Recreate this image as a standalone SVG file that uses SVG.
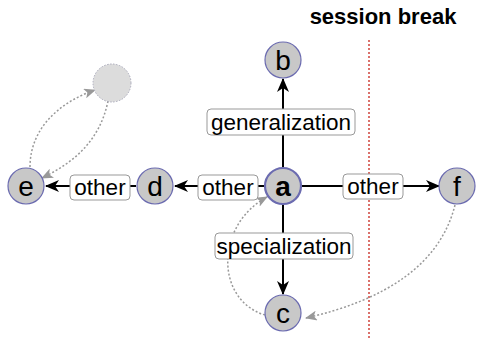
<svg xmlns="http://www.w3.org/2000/svg" width="477" height="340" viewBox="0 0 477 340">
<style>
.node circle{fill:#c8c8c8;stroke:#6b6bb0;stroke-width:1.2}
.node text{font-family:"Liberation Sans",Arial,sans-serif;font-size:28px;fill:#000;text-anchor:middle}
.edge{stroke:#000;stroke-width:2;fill:none}
.lbl rect{fill:#fff;stroke:#999;stroke-width:1}
.lbl text{font-family:"Liberation Sans",Arial,sans-serif;font-size:22.5px;fill:#000;text-anchor:middle}
.soft{stroke:#999;stroke-width:1.5;stroke-dasharray:2,2;fill:none}
</style>
<defs>
<marker id="ah" markerUnits="userSpaceOnUse" markerWidth="14" markerHeight="12" refX="13" refY="6" orient="auto">
<path d="M0,0 L14,6 L0,12 L4,6 z" fill="#000"/>
</marker>
<marker id="gh" markerUnits="userSpaceOnUse" markerWidth="12" markerHeight="10" refX="11" refY="5" orient="auto">
<path d="M0,0 L12,5 L0,10 L3,5 z" fill="#999"/>
</marker>
</defs>
<text x="383" y="24" font-family="Liberation Sans,Arial,sans-serif" font-size="22" font-weight="bold" text-anchor="middle">session break</text>
<line x1="369" y1="40" x2="369" y2="340" stroke="#d0433b" stroke-width="1.5" stroke-dasharray="2,2"/>
<g id="connectors">
<line class="edge" x1="283" y1="168" x2="283" y2="79" marker-end="url(#ah)"/>
<line class="edge" x1="283" y1="205" x2="283" y2="294" marker-end="url(#ah)"/>
<line class="edge" x1="264" y1="186" x2="175" y2="186" marker-end="url(#ah)"/>
<line class="edge" x1="136" y1="186" x2="46" y2="186" marker-end="url(#ah)"/>
<line class="edge" x1="302" y1="186" x2="439" y2="186" marker-end="url(#ah)"/>
<path class="soft" d="M265,315 C215,300 215,225 267,197" marker-end="url(#gh)"/>
<path class="soft" d="M455,205 C440,265 385,300 306,318" marker-end="url(#gh)"/>
<path class="soft" d="M108,101 C100,140 75,162 42,178" marker-end="url(#gh)"/>
<path class="soft" d="M30,167 C30,128 60,102 95,90" marker-end="url(#gh)"/>
</g>
<g id="label-generalization" class="lbl"><rect x="207" y="109" width="148" height="26" rx="4"/><text x="281" y="130">generalization</text></g>
<g id="label-specialization" class="lbl"><rect x="215" y="233" width="138" height="26" rx="4"/><text x="284" y="254">specialization</text></g>
<g id="label-other-ad" class="lbl"><rect x="198" y="175" width="60" height="25" rx="4"/><text x="228" y="195">other</text></g>
<g id="label-other-de" class="lbl"><rect x="70" y="175" width="60" height="25" rx="4"/><text x="100" y="195">other</text></g>
<g id="label-other-af" class="lbl"><rect x="343" y="174" width="60" height="25" rx="4"/><text x="373" y="194">other</text></g>
<g id="node-ghost"><circle cx="112" cy="83" r="19" fill="#dcdcdc" stroke="#aab" stroke-width="1" stroke-dasharray="1.5,1.5"/></g>
<g id="node-a" class="node"><circle cx="283" cy="186" r="18" style="stroke-width:2.2"/><text x="283" y="196" font-weight="bold">a</text></g>
<g id="node-b" class="node"><circle cx="283" cy="60" r="18"/><text x="283" y="70">b</text></g>
<g id="node-c" class="node"><circle cx="283" cy="313" r="18"/><text x="283" y="323">c</text></g>
<g id="node-d" class="node"><circle cx="155" cy="186" r="18"/><text x="155" y="196">d</text></g>
<g id="node-e" class="node"><circle cx="26" cy="186" r="18"/><text x="26" y="196">e</text></g>
<g id="node-f" class="node"><circle cx="457" cy="186" r="18"/><text x="457" y="196">f</text></g>
</svg>
